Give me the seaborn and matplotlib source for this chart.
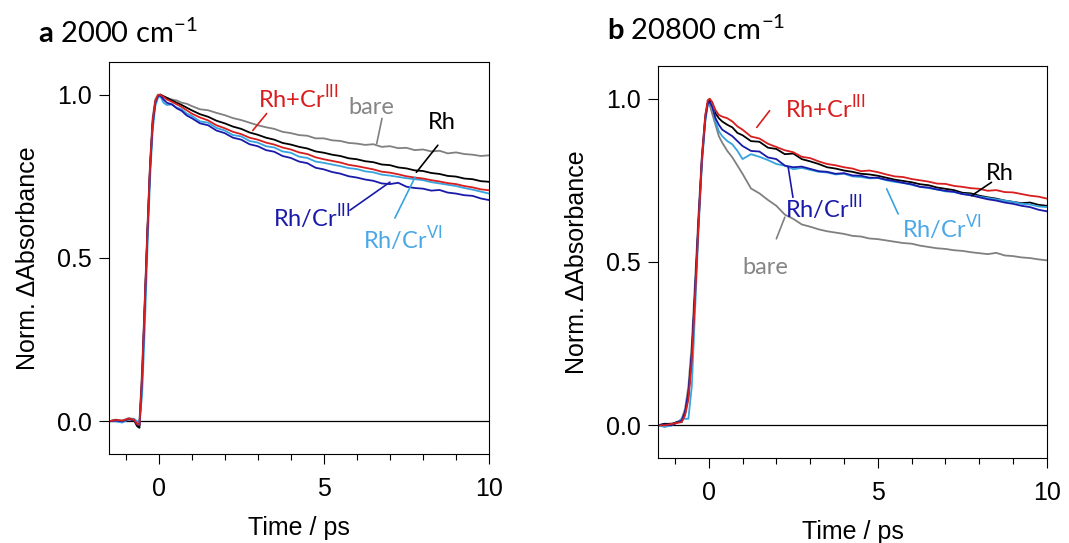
import numpy as np
import pandas as pd
import matplotlib
matplotlib.use("Agg")
import matplotlib.pyplot as plt
from matplotlib.ticker import MultipleLocator, FormatStrFormatter
import seaborn as sns

# ---- data (normalised transient absorption) ----
# panel a: 2000 cm-1
t_a = [-1.5, -1.3, -1.1, -0.9, -0.75, -0.65, -0.58, -0.5, -0.42, -0.34, -0.26, -0.18, -0.1, -0.02,
       0.05, 0.15, 0.25, 0.4, 0.55, 0.7, 0.85, 1.0,
       1.25, 1.5, 1.75, 2.0, 2.25, 2.5, 2.75, 3.0, 3.25, 3.5, 3.75, 4.0, 4.25, 4.5, 4.75, 5.0,
       5.25, 5.5, 5.75, 6.0, 6.25, 6.5, 6.75, 7.0, 7.25, 7.5, 7.75, 8.0, 8.25, 8.5, 8.75, 9.0,
       9.25, 9.5, 9.75, 10.0]
a_bare = [0.0, 0.005, 0.002, 0.01, 0.006, -0.005, 0.0, 0.16, 0.37, 0.59, 0.79, 0.93, 0.985, 1.0,
          0.998, 0.993, 0.99, 0.985, 0.982, 0.975, 0.972, 0.965,
          0.955, 0.952, 0.944, 0.937, 0.928, 0.922, 0.914, 0.906, 0.9, 0.895, 0.886, 0.882, 0.876, 0.874,
          0.866, 0.866, 0.86, 0.858, 0.852, 0.85, 0.846, 0.848, 0.84, 0.842, 0.836, 0.837, 0.83, 0.832,
          0.826, 0.828, 0.82, 0.823, 0.818, 0.816, 0.812, 0.814]
a_rh = [0.0, 0.003, 0.0, 0.006, 0.004, -0.015, -0.02, 0.12, 0.34, 0.57, 0.77, 0.91, 0.975, 0.995,
        1.0, 0.995, 0.99, 0.982, 0.975, 0.968, 0.96, 0.952,
        0.94, 0.932, 0.92, 0.912, 0.902, 0.895, 0.884, 0.877, 0.868, 0.862, 0.852, 0.847, 0.84, 0.835,
        0.826, 0.822, 0.816, 0.812, 0.805, 0.802, 0.796, 0.793, 0.786, 0.784, 0.777, 0.774, 0.768, 0.766,
        0.76, 0.757, 0.751, 0.749, 0.743, 0.741, 0.735, 0.733]
a_rh_cr6 = [0.0, 0.0, -0.004, 0.006, 0.008, 0.0, -0.005, 0.08, 0.28, 0.52, 0.74, 0.89, 0.965, 0.99,
            0.995, 0.975, 0.968, 0.97, 0.96, 0.955, 0.942, 0.935,
            0.918, 0.914, 0.898, 0.89, 0.876, 0.872, 0.858, 0.853, 0.842, 0.838, 0.826, 0.822, 0.81, 0.806,
            0.795, 0.791, 0.786, 0.781, 0.775, 0.772, 0.765, 0.762, 0.755, 0.752, 0.748, 0.744, 0.741, 0.738,
            0.732, 0.728, 0.724, 0.72, 0.714, 0.709, 0.703, 0.697]
a_rh_cr3 = [0.0, 0.002, 0.0, 0.007, 0.004, -0.01, -0.012, 0.13, 0.35, 0.57, 0.77, 0.91, 0.975, 0.995,
            0.998, 0.985, 0.975, 0.97, 0.958, 0.95, 0.936, 0.928,
            0.912, 0.906, 0.89, 0.882, 0.868, 0.862, 0.848, 0.842, 0.83, 0.825, 0.812, 0.806, 0.795, 0.79,
            0.776, 0.771, 0.763, 0.758, 0.75, 0.746, 0.74, 0.736, 0.728, 0.726, 0.73, 0.718, 0.714, 0.712,
            0.706, 0.708, 0.7, 0.697, 0.692, 0.69, 0.682, 0.677]
a_rh_plus_cr3 = [0.0, 0.004, 0.002, 0.008, 0.005, -0.008, -0.01, 0.14, 0.36, 0.58, 0.78, 0.92, 0.98, 0.998,
                 1.0, 0.993, 0.985, 0.978, 0.97, 0.962, 0.952, 0.942,
                 0.93, 0.921, 0.906, 0.897, 0.886, 0.879, 0.868, 0.862, 0.853, 0.847, 0.838, 0.832, 0.823, 0.818,
                 0.808, 0.802, 0.797, 0.792, 0.785, 0.781, 0.776, 0.771, 0.764, 0.761, 0.756, 0.75, 0.746, 0.743,
                 0.738, 0.734, 0.729, 0.726, 0.72, 0.716, 0.71, 0.707]

# panel b: 20800 cm-1
t_b = [-1.5, -1.3, -1.1, -0.9, -0.8, -0.7, -0.6, -0.5, -0.4, -0.3, -0.2, -0.1, -0.03,
       0.03, 0.1, 0.2, 0.3, 0.4, 0.55, 0.7, 0.85, 1.0,
       1.25, 1.5, 1.75, 2.0, 2.25, 2.5, 2.75, 3.0, 3.25, 3.5, 3.75, 4.0, 4.25, 4.5, 4.75, 5.0,
       5.25, 5.5, 5.75, 6.0, 6.25, 6.5, 6.75, 7.0, 7.25, 7.5, 7.75, 8.0, 8.25, 8.5, 8.75, 9.0,
       9.25, 9.5, 9.75, 10.0]
b_bare = [0.0, 0.004, 0.006, 0.01, 0.02, 0.05, 0.12, 0.25, 0.45, 0.65, 0.83, 0.95, 0.985,
          0.98, 0.955, 0.92, 0.885, 0.865, 0.84, 0.82, 0.795, 0.77,
          0.725, 0.71, 0.69, 0.672, 0.645, 0.632, 0.615, 0.608, 0.6, 0.594, 0.59, 0.586, 0.58, 0.578,
          0.572, 0.57, 0.566, 0.562, 0.558, 0.556, 0.55, 0.546, 0.542, 0.54, 0.536, 0.534, 0.53, 0.527,
          0.524, 0.528, 0.52, 0.518, 0.514, 0.512, 0.508, 0.505]
b_rh = [0.0, 0.005, 0.003, 0.012, 0.01, 0.035, 0.09, 0.21, 0.41, 0.62, 0.81, 0.94, 0.985,
        0.995, 0.985, 0.955, 0.94, 0.93, 0.92, 0.912, 0.895, 0.888,
        0.87, 0.868, 0.85, 0.846, 0.83, 0.832, 0.815, 0.808, 0.8, 0.79, 0.786, 0.78, 0.776, 0.77,
        0.768, 0.764, 0.758, 0.752, 0.748, 0.744, 0.738, 0.735, 0.728, 0.724, 0.72, 0.712, 0.71, 0.703,
        0.698, 0.694, 0.688, 0.684, 0.68, 0.682, 0.675, 0.672]
b_rh_cr6 = [0.0, -0.005, 0.0, 0.01, 0.02, 0.02, 0.02, 0.12, 0.36, 0.6, 0.8, 0.93, 0.98,
            0.985, 0.99, 0.93, 0.9, 0.885, 0.87, 0.86, 0.84, 0.815,
            0.83, 0.822, 0.812, 0.8, 0.795, 0.784, 0.788, 0.782, 0.776, 0.774, 0.768, 0.77, 0.762, 0.76,
            0.756, 0.757, 0.75, 0.745, 0.742, 0.736, 0.73, 0.726, 0.722, 0.716, 0.714, 0.708, 0.706, 0.7,
            0.696, 0.692, 0.688, 0.684, 0.678, 0.676, 0.67, 0.668]
b_rh_cr3 = [0.0, 0.003, 0.0, 0.01, 0.015, 0.04, 0.1, 0.22, 0.42, 0.63, 0.82, 0.94, 0.985,
            0.99, 0.975, 0.94, 0.92, 0.905, 0.895, 0.885, 0.87, 0.855,
            0.84, 0.838, 0.82, 0.815, 0.795, 0.79, 0.792, 0.785, 0.778, 0.776, 0.77, 0.772, 0.765, 0.764,
            0.758, 0.758, 0.752, 0.748, 0.742, 0.738, 0.73, 0.728, 0.722, 0.718, 0.715, 0.708, 0.704, 0.698,
            0.692, 0.688, 0.682, 0.678, 0.672, 0.668, 0.66, 0.655]
b_rh_plus_cr3 = [0.0, 0.0, 0.004, 0.008, 0.01, 0.03, 0.08, 0.2, 0.4, 0.62, 0.82, 0.95, 0.995,
                 1.0, 0.99, 0.965, 0.95, 0.945, 0.94, 0.93, 0.915, 0.905,
                 0.884, 0.878, 0.862, 0.852, 0.842, 0.836, 0.822, 0.818, 0.808, 0.8, 0.796, 0.79, 0.786, 0.778,
                 0.78, 0.775, 0.768, 0.762, 0.76, 0.754, 0.75, 0.746, 0.74, 0.739, 0.733, 0.73, 0.726, 0.724,
                 0.718, 0.72, 0.714, 0.713, 0.708, 0.703, 0.7, 0.694]

samples = ["bare", "Rh", "Rh/CrVI", "Rh/CrIII", "Rh+CrIII"]
colors = {"bare": "#808080", "Rh": "#000000", "Rh/CrVI": "#36a4e0",
          "Rh/CrIII": "#1a1aaa", "Rh+CrIII": "#d81e1e"}
text_colors = {"bare": "#858585", "Rh": "#000000", "Rh/CrVI": "#4aa8e6",
               "Rh/CrIII": "#1a1aaa", "Rh+CrIII": "#d81e1e"}
labels = {"bare": "bare", "Rh": "Rh", "Rh/CrVI": r"Rh/Cr$^{\mathrm{VI}}$",
          "Rh/CrIII": r"Rh/Cr$^{\mathrm{III}}$", "Rh+CrIII": r"Rh+Cr$^{\mathrm{III}}$"}

# label placement: text (x, y), leader start, leader end
notes_a = {
    "Rh+CrIII": ((3.0, 0.99), (3.27, 0.942), (2.85, 0.89)),
    "bare": ((5.75, 0.96), (6.76, 0.927), (6.6, 0.85)),
    "Rh": ((8.15, 0.915), (8.45, 0.845), (7.8, 0.762)),
    "Rh/CrIII": ((3.45, 0.628), (5.79, 0.646), (7.0, 0.732)),
    "Rh/CrVI": ((6.2, 0.56), (7.15, 0.622), (7.76, 0.747)),
}
notes_b = {
    "Rh+CrIII": ((2.25, 0.97), (1.8, 0.963), (1.42, 0.912)),
    "Rh": ((8.2, 0.77), (8.36, 0.744), (7.77, 0.703)),
    "Rh/CrIII": ((2.25, 0.667), (2.49, 0.698), (2.35, 0.79)),
    "Rh/CrVI": ((5.7, 0.605), (5.6, 0.647), (5.26, 0.724)),
    "bare": ((1.0, 0.483), (2.0, 0.571), (2.25, 0.637)),
}


def long_table(t, series):
    rows = []
    for name, vals in zip(samples, series):
        rows.append(pd.DataFrame({"time": t, "dA": vals, "sample": name}))
    return pd.concat(rows, ignore_index=True)


df_a = long_table(t_a, [a_bare, a_rh, a_rh_cr6, a_rh_cr3, a_rh_plus_cr3])
df_b = long_table(t_b, [b_bare, b_rh, b_rh_cr6, b_rh_cr3, b_rh_plus_cr3])

sns.set_theme(style="ticks", rc={"text.color": "black", "axes.labelcolor": "black",
                                 "xtick.color": "black", "ytick.color": "black",
                                 "axes.edgecolor": "black", "axes.linewidth": 0.8})
plt.rcParams["font.family"] = ["Liberation Sans", "DejaVu Sans"]
plt.rcParams["mathtext.fontset"] = "custom"
plt.rcParams["mathtext.rm"] = "Lato"
plt.rcParams["mathtext.bf"] = "Lato:bold"

fig = plt.figure(figsize=(10.69, 5.43), dpi=100)
ax_a = fig.add_axes([0.102, 0.164, 0.3555, 0.722])
ax_b = fig.add_axes([0.6155, 0.1565, 0.3639, 0.722])


def draw_panel(ax, df, notes):
    sns.lineplot(data=df, x="time", y="dA", hue="sample", hue_order=samples,
                 palette=colors, estimator=None, sort=False, lw=1.3, legend=False, ax=ax)
    ax.axhline(0, color="black", lw=0.9, zorder=0.5)
    ax.set_xlim(-1.5, 10)
    ax.set_ylim(-0.1, 1.1)
    ax.xaxis.set_major_locator(MultipleLocator(5))
    ax.xaxis.set_minor_locator(MultipleLocator(1))
    ax.yaxis.set_major_locator(MultipleLocator(0.5))
    ax.yaxis.set_major_formatter(FormatStrFormatter("%.1f"))
    ax.tick_params(axis="both", which="major", direction="out", length=7.5, width=0.8,
                   labelsize=18, color="black", labelcolor="black")
    ax.tick_params(axis="x", which="major", pad=9)
    ax.tick_params(axis="y", which="major", pad=5)
    ax.tick_params(axis="x", which="minor", direction="out", length=4.5, width=0.8, color="black")
    for side in ["top", "right", "left", "bottom"]:
        ax.spines[side].set_visible(True)
        ax.spines[side].set_color("black")
    ax.set_xlabel("Time / ps", fontsize=18, labelpad=11, color="black")
    ax.set_ylabel("Norm. ΔAbsorbance", fontsize=18, labelpad=12, color="black")
    for key, (txt, p0, p1) in notes.items():
        ax.text(txt[0], txt[1], labels[key], color=text_colors[key], fontsize=17,
                family=["Lato", "DejaVu Sans"], ha="left", va="center")
        ax.annotate("", xy=p1, xytext=p0,
                    arrowprops=dict(arrowstyle="-", color=colors[key], lw=1.2,
                                    shrinkA=0, shrinkB=0))
    return ax


draw_panel(ax_a, df_a, notes_a)
draw_panel(ax_b, df_b, notes_b)

fig.text(0.036, 0.92, r"$\mathbf{a}$ 2000 cm$^{\mathrm{-1}}$", fontsize=21, color="black",
         family=["Lato", "DejaVu Sans"], ha="left", va="baseline")
fig.text(0.568, 0.927, r"$\mathbf{b}$ 20800 cm$^{\mathrm{-1}}$", fontsize=21, color="black",
         family=["Lato", "DejaVu Sans"], ha="left", va="baseline")

fig.savefig("out.png", dpi=100)
